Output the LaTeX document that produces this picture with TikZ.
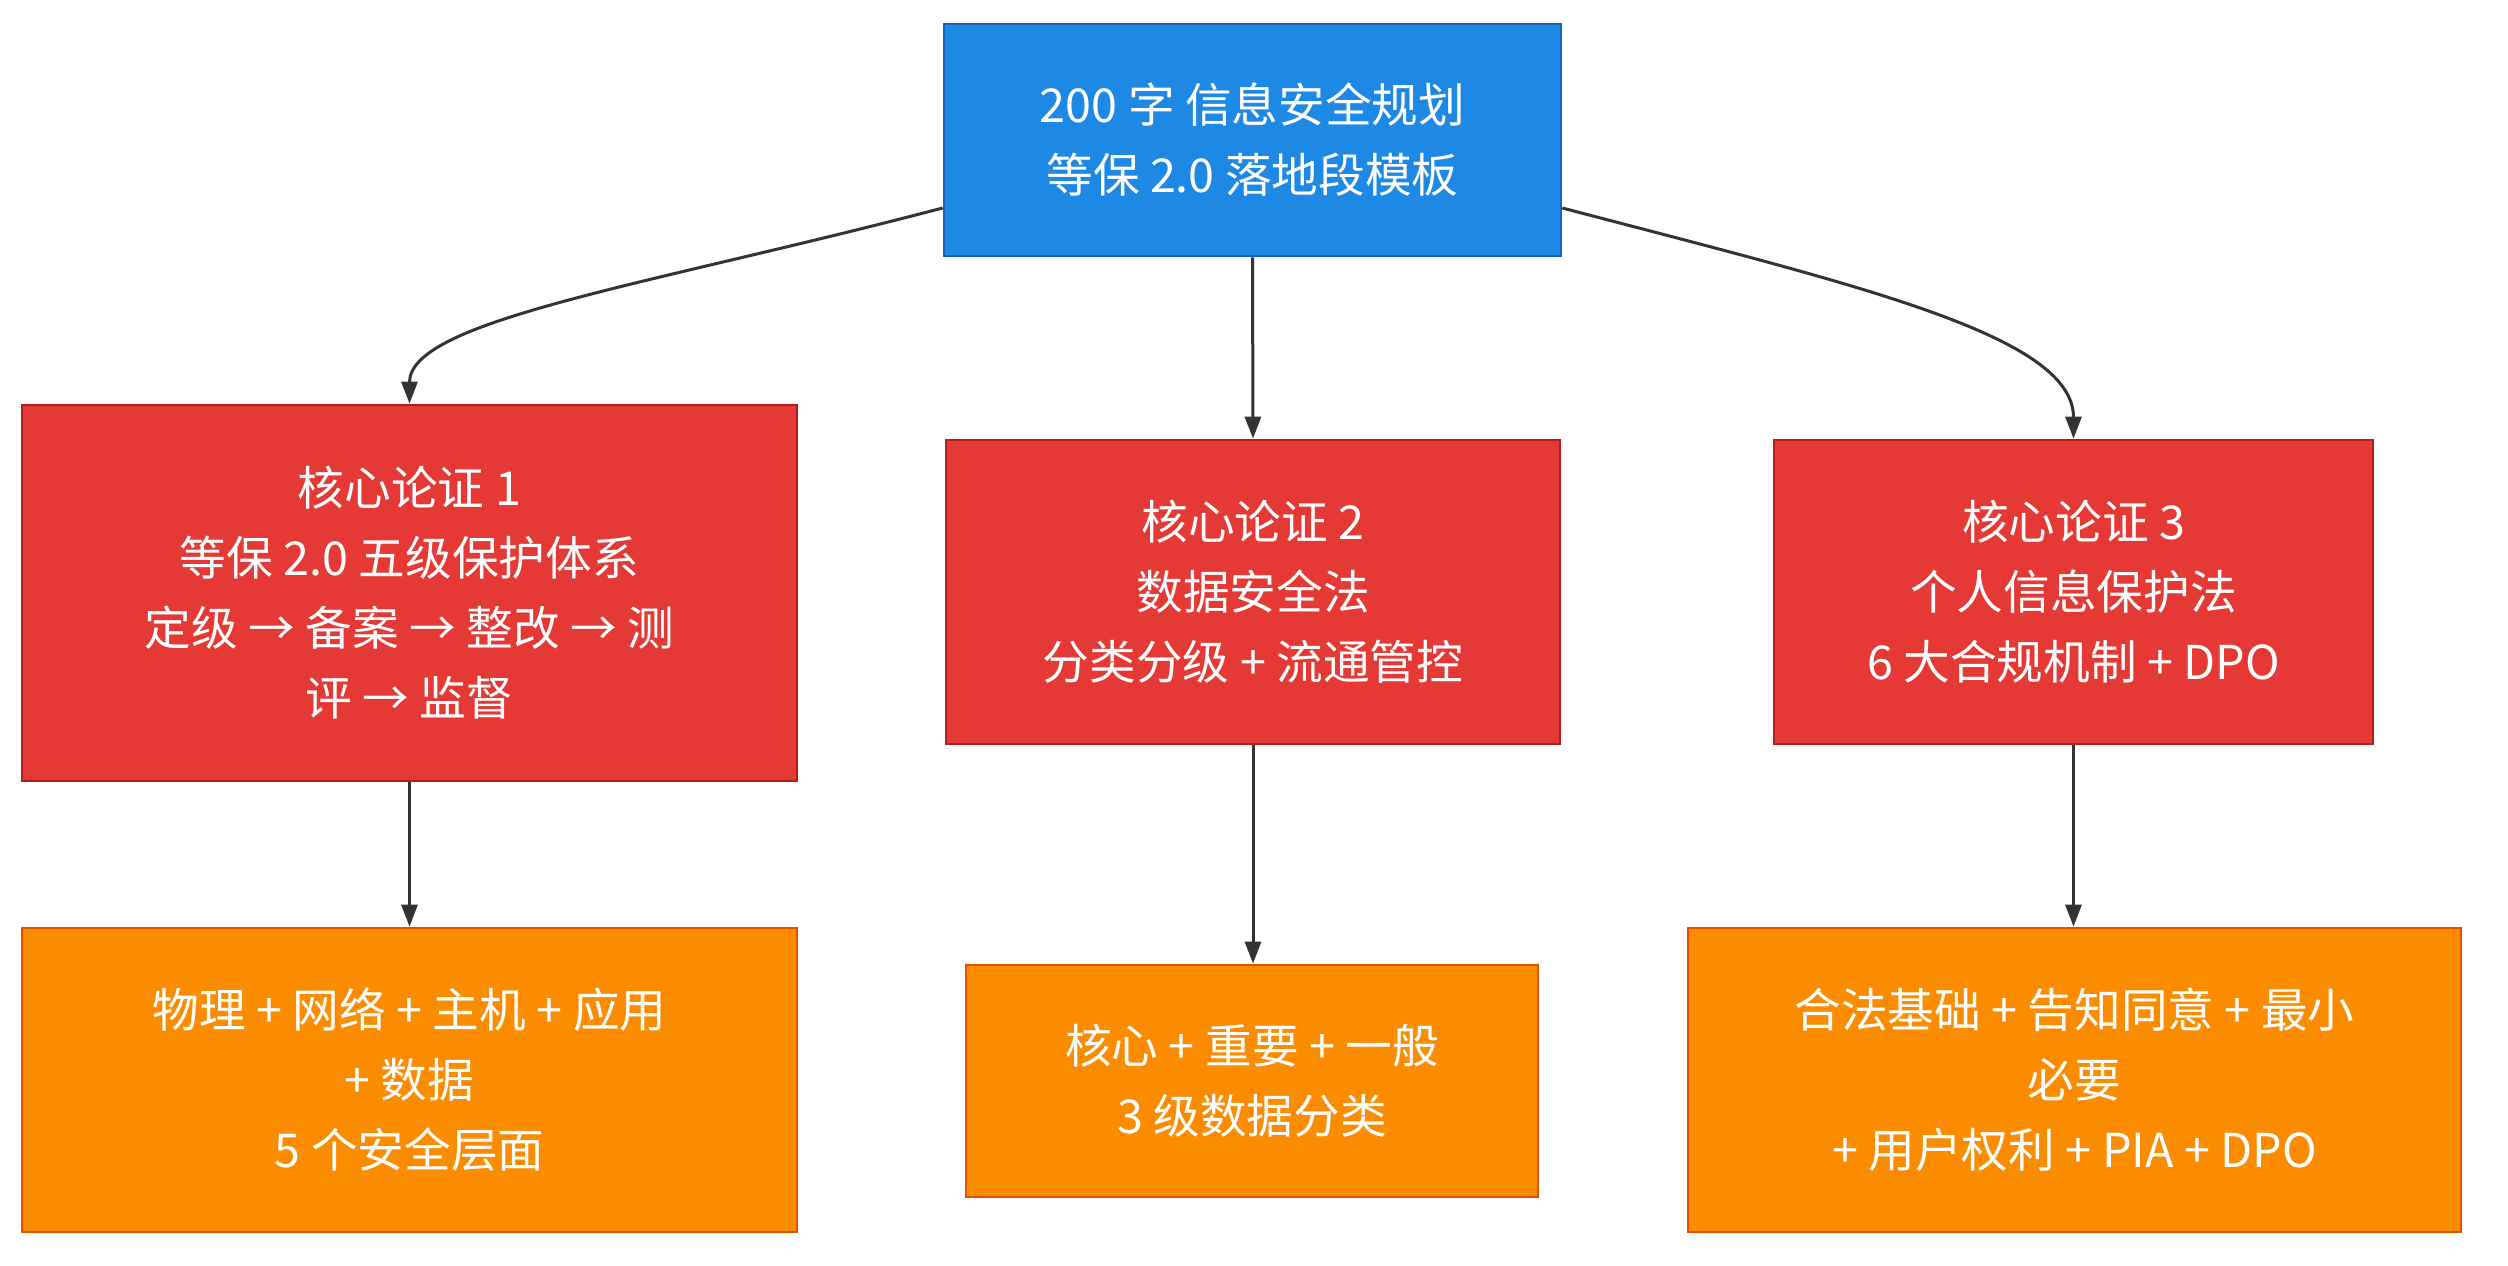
\documentclass[tikz,border=0pt]{standalone}
\usepackage{fontspec}
\setmainfont{Noto Sans CJK SC}
\usepackage{tikz}
\usetikzlibrary{arrows.meta,calc}
\definecolor{topfill}{HTML}{1E88E5}
\definecolor{topline}{HTML}{1565C0}
\definecolor{argfill}{HTML}{E53935}
\definecolor{argline}{HTML}{B71C1C}
\definecolor{detfill}{HTML}{FB8C00}
\definecolor{detline}{HTML}{E65100}
\definecolor{linkcol}{HTML}{333333}

\begin{document}
\begin{tikzpicture}[x=0.3pt,y=-0.3pt,
    box/.style={draw,line width=0.8pt,text=white,align=center,inner sep=0pt,
      font=\fontsize{14}{21}\selectfont},
    topbox/.style={box,fill=topfill,draw=topline},
    argbox/.style={box,fill=argfill,draw=argline,minimum height=91.2pt},
    detbox/.style={box,fill=detfill,draw=detline,minimum height=91.2pt},
    link/.style={draw=linkcol,line width=0.9pt,-{Triangle[length=6.6pt,width=4.8pt]}}]
    \useasboundingbox (0,0) rectangle (2508,1266);
    \node[topbox,minimum width=185.1pt,minimum height=69.6pt] (top) at (1252.5,140)
      {200 字 信息安全规划\\等保 2.0 落地段模板};
    \node[argbox,minimum width=232.5pt,minimum height=112.8pt] (arg1) at (409.5,593)
      {核心论证 1\\等保 2.0 五级保护体系\\定级 → 备案 → 整改 → 测\\评 → 监督};
    \node[argbox,minimum width=184.2pt] (arg2) at (1253,592)
      {核心论证 2\\数据安全法\\分类分级 + 流通管控};
    \node[argbox,minimum width=179.7pt] (arg3) at (2073.5,592)
      {核心论证 3\\个人信息保护法\\6 大合规机制 + DPO};
    \node[detbox,minimum width=232.5pt] (det1) at (409.5,1080)
      {物理 + 网络 + 主机 + 应用\\+ 数据\\5 个安全层面};
    \node[detbox,minimum width=171.6pt,minimum height=69.6pt] (det2) at (1252,1081)
      {核心 + 重要 + 一般\\3 级数据分类};
    \node[detbox,minimum width=231.9pt] (det3) at (2074.5,1080)
      {合法基础 + 告知同意 + 最小\\必要\\+ 用户权利 + PIA + DPO};
    % top to arguments
    \path[link] ($(top.west)+(0,68)$) .. controls (650,285) and (409.5,320) .. (arg1.north);
    \path[link] (top.south) -- (arg2.north);
    \path[link] ($(top.east)+(0,68)$) .. controls (1855,285) and (2073.5,335) .. (arg3.north);
    % arguments to details
    \path[link] (arg1.south) -- (det1.north);
    \path[link] (arg2.south) -- (arg2.south |- det2.north);
    \path[link] (arg3.south) -- (arg3.south |- det3.north);
\end{tikzpicture}
\end{document}
